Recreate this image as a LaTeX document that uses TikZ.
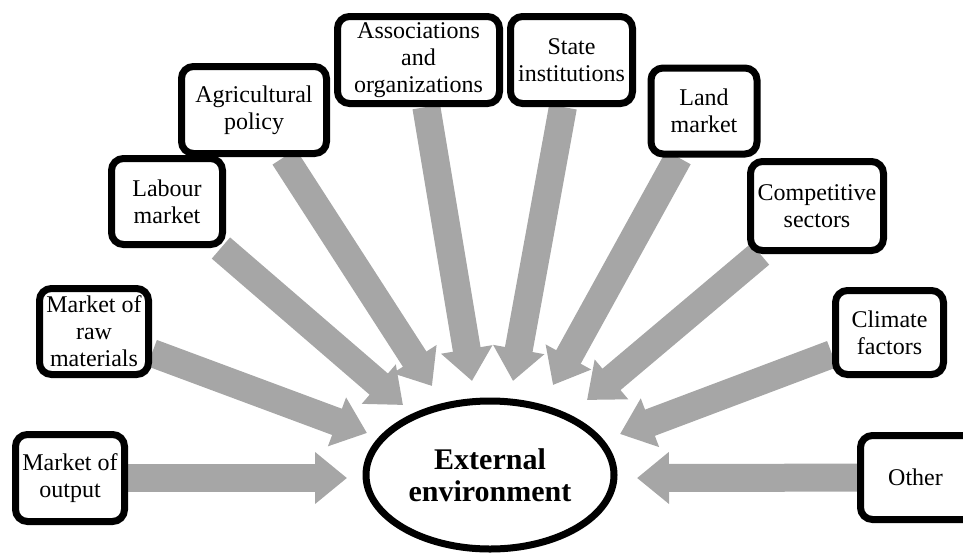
\documentclass[tikz,border=0pt]{standalone}
\usepackage{fontspec}
\setmainfont{Liberation Serif}
\usetikzlibrary{arrows.meta,shapes.geometric,backgrounds,shadows}
\definecolor{arrowgray}{HTML}{A6A6A6}
\tikzset{
  factor/.style={draw, line width=3.5pt, rounded corners=6pt, fill=white,
    align=center, inner sep=0pt, font=\fontsize{12}{13.5}\selectfont,
    drop shadow={opacity=0.25, shadow xshift=1.2pt, shadow yshift=-1.5pt}},
  feed/.style={draw=arrowgray, line width=14pt,
    -{Triangle[length=16pt, width=25pt]}},
}
\begin{document}
\begin{tikzpicture}[x=0.5pt, y=-0.5pt]
      \useasboundingbox (0,0) rectangle (963,557);
      %
      \node[factor, minimum width=54.5pt, minimum height=43.5pt] (output) at (70,478) {Market of\\output};
      \node[factor, minimum width=54.5pt, minimum height=43pt] (raw) at (94,331.5) {Market of\\raw\\materials};
      \node[factor, minimum width=55.5pt, minimum height=43pt] (labour) at (167,201.5) {Labour\\market};
      \node[factor, minimum width=72.5pt, minimum height=43.5pt] (agri) at (254,110) {Agricultural\\policy};
      \node[factor, minimum width=81pt, minimum height=43.5pt] (assoc) at (418.5,60) {Associations\\and\\organizations};
      \node[factor, minimum width=61pt, minimum height=43.5pt] (state) at (571.5,60) {State\\institutions};
      \node[factor, minimum width=53pt, minimum height=43pt] (land) at (704,111) {Land\\market};
      \node[factor, minimum width=66.5pt, minimum height=44.5pt] (compet) at (817,206) {Competitive\\sectors};
      \node[factor, minimum width=54pt, minimum height=42pt] (climate) at (889.5,332.5) {Climate\\factors};
      \node[factor, minimum width=64pt, minimum height=42pt] (other) at (924.5,477.5) {Other\hspace*{9pt}};
      %
      \node[ellipse, draw, line width=3.5pt, fill=white, align=center, inner sep=0pt,
        minimum width=124pt, minimum height=74pt,
        font=\fontsize{15}{16}\selectfont\bfseries,
        drop shadow={opacity=0.25, shadow xshift=1.2pt, shadow yshift=-1.5pt}]
        (env) at (490,475) {External\\environment};
      %
      \coordinate (output-in) at (347,478);
      \coordinate (raw-in) at (367,433);
      \coordinate (labour-in) at (403,405);
      \coordinate (agri-in) at (432,386);
      \coordinate (assoc-in) at (472,381);
      \coordinate (state-in) at (513,381);
      \coordinate (land-in) at (553,385);
      \coordinate (compet-in) at (587,400);
      \coordinate (climate-in) at (620,434);
      \coordinate (other-in) at (637,478);
      %
      \begin{pgfonlayer}{background}
        \draw[feed] (output) -- (output-in);
        \draw[feed] (raw) -- (raw-in);
        \draw[feed] (labour) -- (labour-in);
        \draw[feed] (agri) -- (agri-in);
        \draw[feed] (assoc) -- (assoc-in);
        \draw[feed] (state) -- (state-in);
        \draw[feed] (land) -- (land-in);
        \draw[feed] (compet) -- (compet-in);
        \draw[feed] (climate) -- (climate-in);
        \draw[feed] (other) -- (other-in);
      \end{pgfonlayer}
      %
    \end{tikzpicture}
\end{document}
